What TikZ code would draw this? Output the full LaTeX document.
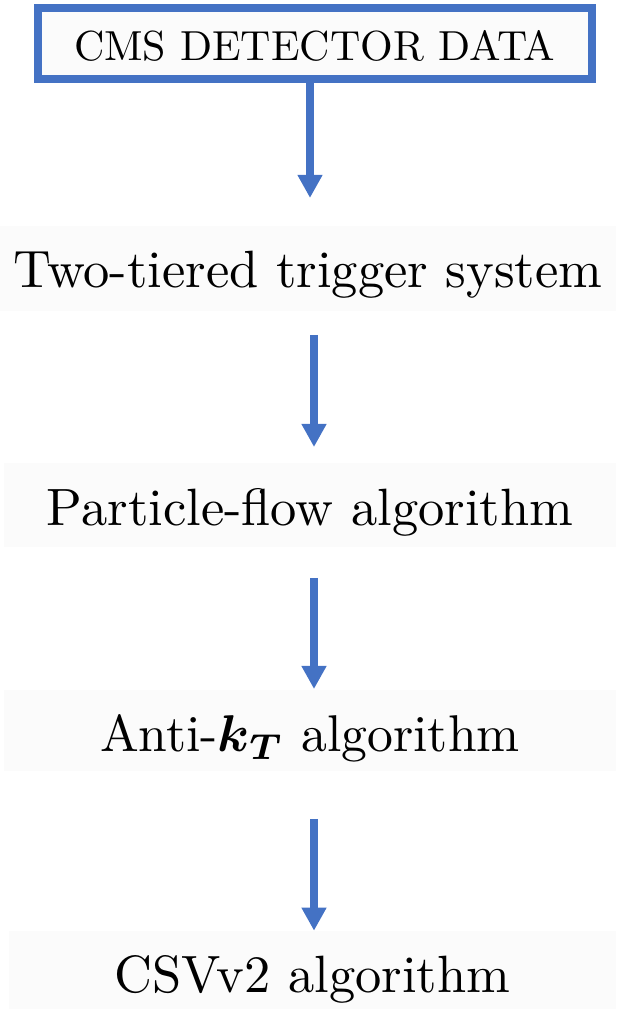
\RequirePackage{fix-cm}
\documentclass[tikz,border=0pt]{standalone}
\usepackage{amsmath}
\usepackage{graphicx}
\usetikzlibrary{arrows.meta}
\definecolor{flowblue}{RGB}{68,114,196}
\definecolor{boxgray}{RGB}{251,251,251}
\newcommand{\flowtext}[2]{\scalebox{#1}{\fontsize{10}{12}\selectfont #2}}
\tikzset{
  headbox/.style={draw=flowblue, line width=8pt, fill=boxgray, inner sep=0pt, outer sep=0pt,
    minimum width=553.5pt, minimum height=71.2pt, text height=34pt, text depth=0pt},
  graybox/.style={fill=boxgray, inner sep=0pt, outer sep=0pt, text depth=0pt},
  flowarrow/.style={draw=flowblue, line width=8pt, -{Triangle[width=23.5pt,length=23pt]}}
}
\begin{document}
\begin{tikzpicture}[x=1pt,y=1pt]
\useasboundingbox (0,0) rectangle (616,1009);
\node[headbox] (top) at (314.75,965.1) {\flowtext{4.2}{CMS DETECTOR DATA}};
\node[graybox, minimum width=616pt, minimum height=84.7pt, text height=39.4pt] (b1) at (308,740.7) {\flowtext{5.25}{Two-tiered trigger system}};
\node[graybox, minimum width=612pt, minimum height=84.3pt, text height=42.3pt] (b2) at (310,504.15) {\flowtext{5.25}{Particle-flow algorithm}};
\node[graybox, minimum width=612pt, minimum height=81pt, text height=43pt] (b3) at (310,278.5) {\flowtext{5.17}{Anti-$\boldsymbol{k_T}$ algorithm}};
\node[graybox, minimum width=607pt, minimum height=78.3pt, text height=46.3pt] (b4) at (312.5,39.15) {\flowtext{5.25}{CSVv2 algorithm}};
\draw[flowarrow] ([xshift=-4.75pt]top.south) -- ([xshift=2pt,yshift=28pt]b1.north);
\draw[flowarrow] ([xshift=6pt,yshift=-24.3pt]b1.south) -- ([xshift=4pt,yshift=15.7pt]b2.north);
\draw[flowarrow] ([xshift=4pt,yshift=-31pt]b2.south) -- ([xshift=4pt,yshift=1pt]b3.north);
\draw[flowarrow] ([xshift=4pt,yshift=-48pt]b3.south) -- ([xshift=1.5pt]b4.north);
\end{tikzpicture}
\end{document}
